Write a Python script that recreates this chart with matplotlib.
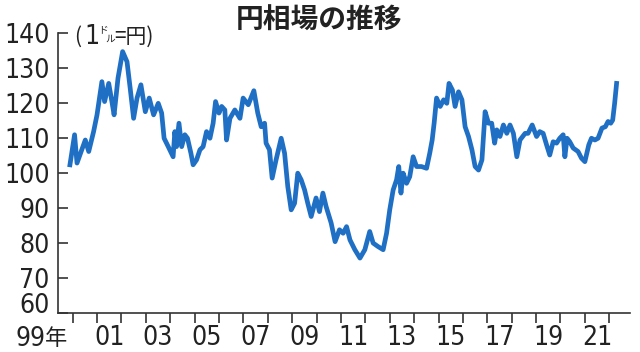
import matplotlib
matplotlib.use("Agg")
import matplotlib.pyplot as plt
from matplotlib import font_manager

# Yen per dollar (decimal years)
years = [1999.89, 2000.08, 2000.18, 2000.52, 2000.66, 2000.86, 2001.00, 2001.20, 2001.31, 2001.48,
         2001.61, 2001.70, 2001.86, 2002.05, 2002.23, 2002.36, 2002.50, 2002.64, 2002.80, 2002.98,
         2003.14, 2003.32, 2003.51, 2003.65, 2003.75, 2003.92, 2004.12, 2004.19, 2004.26, 2004.36,
         2004.47, 2004.60, 2004.71, 2004.85, 2004.94, 2005.08, 2005.22, 2005.35, 2005.49, 2005.63,
         2005.76, 2005.86, 2006.00, 2006.11, 2006.24, 2006.31, 2006.45, 2006.65, 2006.86, 2006.99,
         2007.20, 2007.43, 2007.59, 2007.73, 2007.87, 2007.93, 2008.07, 2008.18, 2008.34, 2008.55,
         2008.69, 2008.82, 2008.96, 2009.10, 2009.23, 2009.37, 2009.51, 2009.64, 2009.78, 2009.98,
         2010.12, 2010.26, 2010.39, 2010.60, 2010.76, 2010.94, 2011.09, 2011.23, 2011.37, 2011.57,
         2011.78, 2011.98, 2012.18, 2012.32, 2012.52, 2012.73, 2012.87, 2013.00, 2013.14, 2013.28,
         2013.37, 2013.46, 2013.55, 2013.69, 2013.82, 2013.96, 2014.10, 2014.30, 2014.51, 2014.64,
         2014.74, 2014.82, 2014.92, 2015.07, 2015.21, 2015.34, 2015.43, 2015.57, 2015.68, 2015.82,
         2015.96, 2016.09, 2016.23, 2016.37, 2016.50, 2016.64, 2016.78, 2016.91, 2017.05, 2017.18,
         2017.30, 2017.39, 2017.52, 2017.66, 2017.80, 2017.93, 2018.07, 2018.21, 2018.34, 2018.55,
         2018.67, 2018.84, 2019.02, 2019.15, 2019.29, 2019.43, 2019.56, 2019.70, 2019.84, 2019.97,
         2020.11, 2020.18, 2020.27, 2020.38, 2020.52, 2020.72, 2020.86, 2021.00, 2021.16, 2021.27,
         2021.41, 2021.54, 2021.70, 2021.84, 2021.95, 2022.06, 2022.14, 2022.22, 2022.30]
yen = [102.4, 111.0, 102.9, 109.5, 106.2, 111.9, 116.7, 126.2, 120.5, 125.7,
       120.5, 116.7, 127.2, 134.8, 131.9, 124.3, 115.7, 121.5, 125.3, 117.6,
       121.5, 116.7, 120.0, 117.2, 110.0, 107.6, 104.7, 111.9, 107.6, 114.3,
       107.6, 111.0, 110.0, 105.7, 102.4, 103.8, 106.7, 107.6, 111.9, 110.0,
       114.3, 120.5, 117.2, 119.1, 118.1, 109.5, 115.7, 118.1, 115.7, 121.5,
       119.6, 123.6, 117.2, 113.3, 114.3, 108.6, 106.7, 98.6, 103.8, 110.0,
       105.7, 96.2, 89.5, 91.4, 100.0, 98.1, 95.2, 91.4, 87.6, 92.9,
       89.0, 94.3, 90.5, 85.7, 80.4, 83.8, 82.8, 84.7, 80.9, 78.1,
       75.7, 78.1, 83.3, 80.0, 79.0, 78.1, 82.8, 89.5, 95.2, 98.1,
       101.9, 94.3, 100.0, 97.1, 99.0, 104.7, 101.9, 101.9, 101.4, 105.7,
       109.5, 114.3, 121.5, 119.1, 121.0, 120.0, 125.7, 123.8, 119.1, 123.3,
       121.0, 113.3, 110.5, 106.7, 101.9, 100.9, 103.8, 117.6, 114.3, 114.3,
       108.6, 112.4, 110.5, 113.8, 111.4, 113.8, 111.4, 104.7, 109.5, 111.4,
       111.4, 113.8, 110.5, 111.9, 111.4, 108.1, 105.2, 109.0, 108.6, 110.0,
       111.0, 104.7, 110.0, 109.0, 107.2, 106.2, 104.3, 103.3, 108.1, 110.0,
       109.5, 110.0, 112.9, 113.3, 114.8, 114.3, 115.2, 120.0, 125.7]

year_ticks = list(range(2000, 2023))
label_pos = [2001.5 + 2 * i for i in range(11)]
label_txt = ["01", "03", "05", "07", "09", "11", "13", "15", "17", "19", "21"]
y_ticks = [60, 70, 80, 90, 100, 110, 120, 130, 140]

# narrow digits like the newspaper graphic
num_prop = font_manager.FontProperties(family="DejaVu Sans", stretch="condensed", size=19)
jp_font = ["Noto Sans CJK JP", "DejaVu Sans"]
ink = "#222222"

fig = plt.figure(figsize=(6.4, 3.52), dpi=100)
ax = fig.add_axes([0.0906, 0.111, 0.8934, 0.794])

ax.plot(years, yen, color="#1f6fc5", lw=3.4, solid_joinstyle="round")

ax.set_xlim(1999.40, 2022.84)
ax.set_ylim(60, 140)

for s in ["top", "right"]:
    ax.spines[s].set_visible(False)
for s in ["left", "bottom"]:
    ax.spines[s].set_linewidth(1.2)
    ax.spines[s].set_color("#333333")

ax.set_yticks(y_ticks)
ax.set_yticklabels([str(v) for v in y_ticks], fontproperties=num_prop, color=ink)
ax.tick_params(axis="y", direction="in", length=7, width=1.2, color="#333333", pad=6)
# the bottom label sits above the axis line
ax.get_yticklabels()[0].set_verticalalignment("baseline")

ax.set_xticks(year_ticks)
ax.set_xticklabels([])
ax.tick_params(axis="x", which="major", direction="out", length=7.5, width=1.2, color="#333333")
ax.set_xticks(label_pos, minor=True)
ax.set_xticklabels(label_txt, minor=True, fontproperties=num_prop, color=ink)
ax.tick_params(axis="x", which="minor", length=0, pad=9)

xt = ax.get_xaxis_transform()
ax.text(1998.88, -0.045, "99", transform=xt, ha="right", va="top", fontproperties=num_prop, color=ink)
ax.text(1998.88, -0.05, "年", transform=xt, ha="left", va="top", family=jp_font, fontsize=16, color=ink)

# unit label (1ドル=円)
def px(x, y):
    return x / 640, 1 - y / 352

fig.text(*px(74, 37), "(", family=jp_font, fontsize=15, ha="left", va="center", color=ink)
fig.text(*px(84, 37), "1", fontproperties=num_prop, ha="left", va="center", color=ink)
fig.text(*px(98, 29), "ド", family=jp_font, fontsize=7, ha="left", va="center", color=ink)
fig.text(*px(105, 39), "ル", family=jp_font, fontsize=7, ha="left", va="center", color=ink)
fig.text(*px(114, 37), "=円)", family=jp_font, fontsize=15, ha="left", va="center", color=ink)

fig.text(*px(319, 21), "円相場の推移", family=jp_font, fontsize=20, fontweight="bold",
         ha="center", va="center", color=ink)

fig.savefig("out.png", dpi=100)
